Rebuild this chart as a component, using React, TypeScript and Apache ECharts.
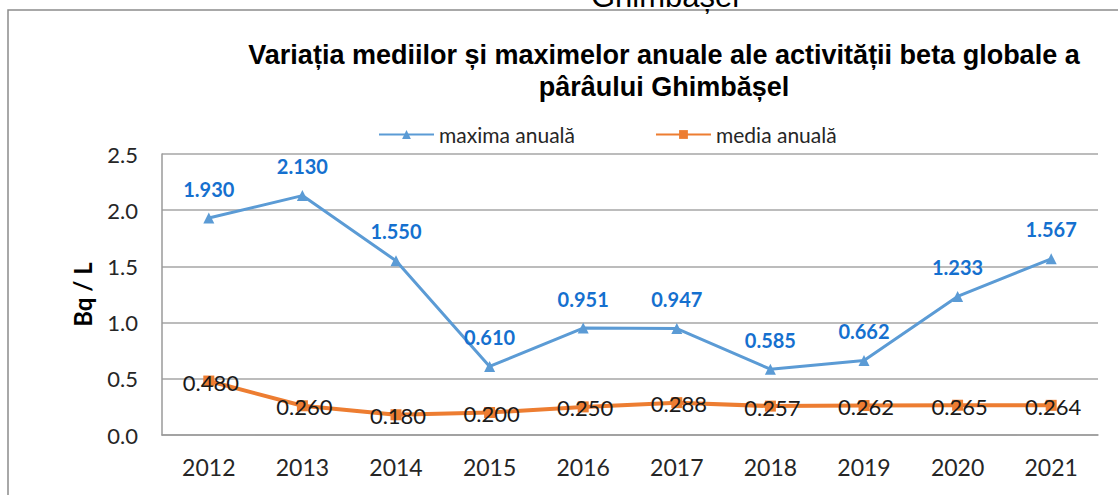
import React, { useEffect, useRef } from "react";
import * as echarts from "echarts";

const years = ["2012", "2013", "2014", "2015", "2016", "2017", "2018", "2019", "2020", "2021"];
const maximaAnuala = [1.93, 2.13, 1.55, 0.61, 0.951, 0.947, 0.585, 0.662, 1.233, 1.567];
const mediaAnuala = [0.48, 0.26, 0.18, 0.2, 0.25, 0.288, 0.257, 0.262, 0.265, 0.264];
const yTicks = [0, 0.5, 1.0, 1.5, 2.0, 2.5];

const titleLines = [
  "Variația mediilor și maximelor anuale ale activității beta globale a",
  "pârâului Ghimbășel",
];
const cutTitle = "Ghimbășel";
const yName = "Bq / L";
const seriesNames = ["maxima anuală", "media anuală"];

export default function App() {
  const ref = useRef<HTMLDivElement>(null);
  useEffect(() => {
    if (!ref.current) return;
    const chart = echarts.init(ref.current, null, { renderer: "svg" });
    const axisFont = "Lato, 'Open Sans', sans-serif";
    chart.setOption({
      animation: false,
      backgroundColor: "#ffffff",
      graphic: [
        {
          type: "rect",
          shape: { x: 8, y: 10, width: 1300, height: 700 },
          style: { fill: "none", stroke: "#8c8c8c", lineWidth: 1.5 },
          z: 0,
        },
        {
          type: "text",
          x: 665,
          y: -4,
          style: {
            text: cutTitle,
            font: "31px 'Liberation Sans', Arial, sans-serif",
            fill: "#000000",
            textAlign: "center",
            textVerticalAlign: "middle",
          },
        },
        {
          type: "text",
          x: 664,
          y: 39,
          style: {
            text: titleLines.join("\n"),
            font: "bold 27px 'Liberation Sans', Arial, sans-serif",
            lineHeight: 32,
            fill: "#000000",
            textAlign: "center",
            textVerticalAlign: "top",
          },
        },
      ],
      legend: {
        top: 119,
        left: 373,
        itemWidth: 55,
        itemHeight: 11,
        itemGap: 80,
        textStyle: { fontFamily: axisFont, fontSize: 21, color: "#262626", padding: [0, 0, 0, 0] },
        data: seriesNames,
      },
      grid: { left: 162, top: 154, right: 20, bottom: 60 },
      xAxis: {
        type: "category",
        data: years,
        boundaryGap: true,
        axisLine: { show: true, lineStyle: { color: "#9a9a9a", width: 1.5 } },
        axisTick: { show: false },
        axisLabel: { fontFamily: axisFont, fontSize: 23, color: "#262626", margin: 20 },
      },
      yAxis: {
        type: "value",
        min: yTicks[0],
        max: yTicks[yTicks.length - 1],
        interval: 0.5,
        name: yName,
        nameLocation: "middle",
        nameGap: 68,
        nameTextStyle: { fontFamily: axisFont, fontSize: 24, fontWeight: "bold", color: "#000000" },
        axisLine: { show: true, lineStyle: { color: "#9a9a9a", width: 1.5 } },
        axisTick: { show: false },
        splitLine: { show: true, lineStyle: { color: "#a6a6a6", width: 1.5 } },
        axisLabel: {
          fontFamily: axisFont,
          fontSize: 22,
          color: "#262626",
          margin: 24,
          formatter: (v: number) => v.toFixed(1),
        },
      },
      series: [
        {
          name: seriesNames[0],
          type: "line",
          data: maximaAnuala,
          color: "#5B9BD5",
          symbol: "triangle",
          symbolSize: 11,
          lineStyle: { width: 3, color: "#5B9BD5" },
          itemStyle: { color: "#5B9BD5" },
          label: {
            show: true,
            position: "top",
            distance: 14,
            fontFamily: axisFont,
            fontSize: 20,
            fontWeight: "bold",
            color: "#1570CF",
            formatter: (p: any) => Number(p.value).toFixed(3),
          },
          z: 3,
        },
        {
          name: seriesNames[1],
          type: "line",
          data: mediaAnuala,
          color: "#ED7D31",
          symbol: "rect",
          symbolSize: 11,
          lineStyle: { width: 4, color: "#ED7D31" },
          itemStyle: { color: "#ED7D31" },
          label: {
            show: true,
            position: "inside",
            offset: [2, 1],
            fontFamily: axisFont,
            fontSize: 22,
            color: "#1a1a1a",
            formatter: (p: any) => Number(p.value).toFixed(3),
          },
          z: 3,
        },
      ],
    });
    return () => chart.dispose();
  }, []);
  return (
    <div
      ref={ref}
      style={{ position: "fixed", left: 0, top: 0, width: 1118, height: 495, background: "#fff" }}
    />
  );
}
